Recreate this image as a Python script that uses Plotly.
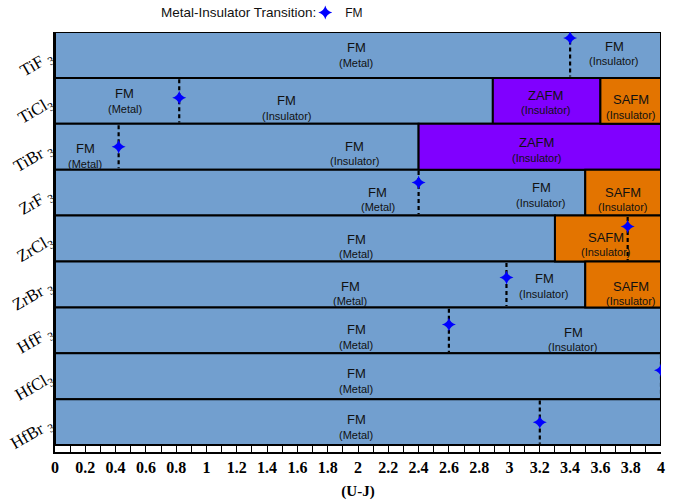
import plotly.graph_objects as go

# Compounds, top to bottom
compounds = ["TiF <sub>3</sub>", "TiCl<sub>3</sub>", "TiBr <sub>3</sub>",
             "ZrF <sub>3</sub>", "ZrCl<sub>3</sub>", "ZrBr <sub>3</sub>",
             "HfF <sub>3</sub>", "HfCl<sub>3</sub>", "HfBr <sub>3</sub>"]

# Magnetic phase segments along (U-J): (row index, start, end)
fm_segments = [(0, 0.0, 4.0), (1, 0.0, 2.89), (2, 0.0, 2.4), (3, 0.0, 3.5),
               (4, 0.0, 3.3), (5, 0.0, 3.5), (6, 0.0, 4.0), (7, 0.0, 4.0),
               (8, 0.0, 4.0)]
zafm_segments = [(1, 2.89, 3.6), (2, 2.4, 4.0)]
safm_segments = [(1, 3.6, 4.0), (3, 3.5, 4.0), (4, 3.3, 4.0), (5, 3.5, 4.0)]

# Metal-insulator transition value of (U-J) for each compound
transition_uj = [3.4, 0.82, 0.42, 2.4, 3.78, 2.98, 2.6, 4.0, 3.2]

# Phase labels: (row, x, vertical offset within row, phase, state)
phase_labels = [
    (0, 1.99, 0.0, "FM", "Metal"), (0, 3.69, -0.03, "FM", "Insulator"),
    (1, 0.46, 0.0, "FM", "Metal"), (1, 1.53, 0.15, "FM", "Insulator"),
    (1, 3.24, 0.04, "ZAFM", "Insulator"), (1, 3.8, 0.13, "SAFM", "Insulator"),
    (2, 0.2, 0.2, "FM", "Metal"), (2, 1.98, 0.15, "FM", "Insulator"),
    (2, 3.18, 0.07, "ZAFM", "Insulator"),
    (3, 2.13, 0.15, "FM", "Metal"), (3, 3.21, 0.05, "FM", "Insulator"),
    (3, 3.75, 0.15, "SAFM", "Insulator"),
    (4, 1.99, 0.17, "FM", "Metal"), (4, 3.64, 0.13, "SAFM", "Insulator"),
    (5, 1.95, 0.2, "FM", "Metal"), (5, 3.23, 0.04, "FM", "Insulator"),
    (5, 3.8, 0.2, "SAFM", "Insulator"),
    (6, 1.99, 0.15, "FM", "Metal"), (6, 3.42, 0.2, "FM", "Insulator"),
    (7, 1.99, 0.1, "FM", "Metal"),
    (8, 1.99, 0.1, "FM", "Metal"),
]

# Vertical placement of the transition marker inside each row
marker_offset = [-0.37, -0.07, 0.0, -0.22, -0.26, -0.15, -0.13, -0.13, 0.0]

x_ticks = [round(0.2 * i, 1) for i in range(21)]
x_ticktext = [("%g" % v) for v in x_ticks]

BLUE = "#729fcf"
PURPLE = "#8000ff"
ORANGE = "#e37400"
SANS = "Liberation Sans"
SERIF = "Liberation Serif"

fig = go.Figure()


def add_bars(segments, color, name):
    fig.add_trace(go.Bar(
        orientation="h",
        y=[s[0] for s in segments],
        base=[s[1] for s in segments],
        x=[s[2] - s[1] for s in segments],
        width=1.0,
        marker=dict(color=color, line=dict(color="black", width=2)),
        name=name, showlegend=False, hoverinfo="skip",
    ))


add_bars(fm_segments, BLUE, "FM")
add_bars(zafm_segments, PURPLE, "ZAFM")
add_bars(safm_segments, ORANGE, "SAFM")

# Dashed transition lines spanning each row
for i, v in enumerate(transition_uj):
    fig.add_trace(go.Scatter(
        x=[v, v], y=[i - 0.47, i + 0.47], mode="lines",
        line=dict(color="black", width=2.2, dash="4px,3px"),
        showlegend=False, hoverinfo="skip",
    ))

# Transition markers
fig.add_trace(go.Scatter(
    x=transition_uj,
    y=[i + off for i, off in enumerate(marker_offset)],
    mode="markers",
    marker=dict(symbol="star-diamond", size=10, color="#0000ff",
                line=dict(width=0)),
    name="FM",
))

# Two-line phase labels: phase name above, electronic state below
for row, x, off, phase, state in phase_labels:
    fig.add_annotation(
        x=x, y=row + off - 0.16, xref="x", yref="y", showarrow=False,
        text=phase, font=dict(family=SANS, size=13, color="#111111"),
    )
    fig.add_annotation(
        x=x, y=row + off + 0.17, xref="x", yref="y", showarrow=False,
        text=f"({state})", font=dict(family=SANS, size=11, color="#111111"),
    )

fig.add_annotation(
    x=0.302, y=1, xref="paper", yref="paper", yshift=20,
    xanchor="center", yanchor="middle", showarrow=False,
    text="Metal-Insulator Transition:",
    font=dict(family=SANS, size=13.5, color="#111111"),
)

fig.update_layout(
    width=690, height=500,
    margin=dict(l=55, r=29, t=32, b=48, autoexpand=False),
    plot_bgcolor="white", paper_bgcolor="white",
    barmode="overlay",
    legend=dict(
        orientation="h", x=0.413, xanchor="left", y=1.012, yanchor="bottom",
        font=dict(family=SANS, size=12, color="#111111"),
        bgcolor="rgba(0,0,0,0)", itemwidth=30,
    ),
    xaxis=dict(
        range=[0, 4], tickvals=x_ticks, ticktext=x_ticktext,
        ticks="inside", ticklen=7, tickwidth=1, tickcolor="black",
        minor=dict(dtick=0.1, ticks="inside", ticklen=7, tickwidth=1,
                   tickcolor="black"),
        showgrid=False, zeroline=False,
        showline=True, linecolor="black", linewidth=2,
        tickfont=dict(family=SERIF, size=16, color="black", weight="bold"),
        title=dict(text="(U-J)", standoff=10,
                   font=dict(family=SERIF, size=15, color="black",
                             weight="bold")),
    ),
    yaxis=dict(
        range=[8.65, -0.5], tickvals=list(range(len(compounds))),
        ticktext=compounds, tickangle=-30, ticks="",
        showgrid=False, zeroline=False,
        showline=True, linecolor="black", linewidth=2,
        tickfont=dict(family=SERIF, size=17, color="black"),
    ),
)

fig.write_html("out.html")
